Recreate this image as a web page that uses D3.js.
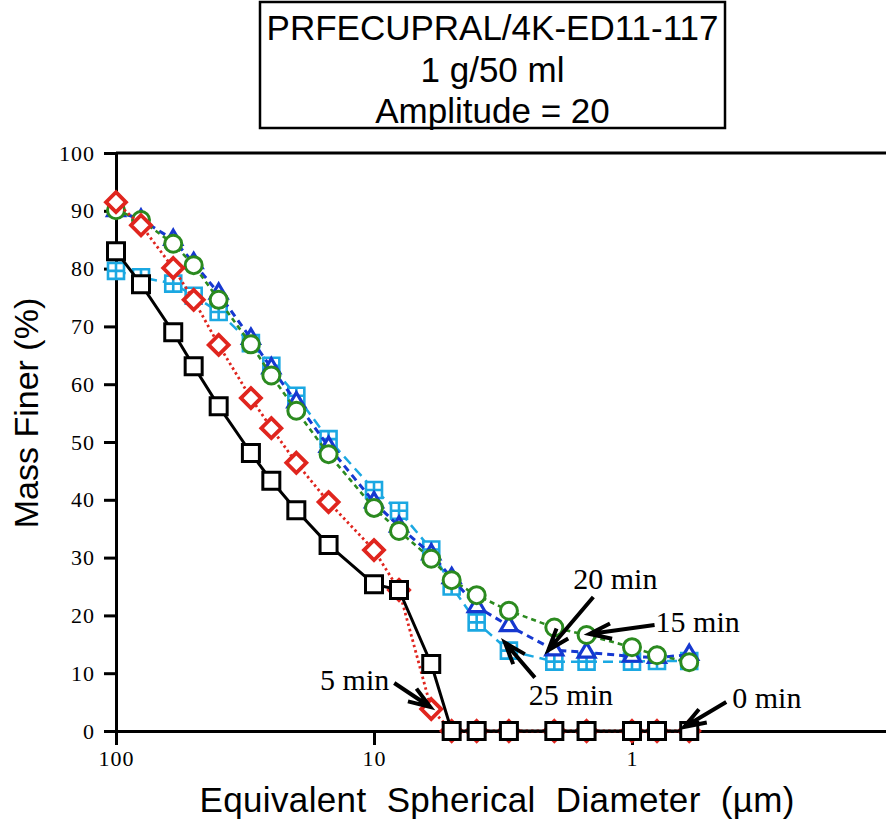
<!DOCTYPE html>
<html>
<head>
<meta charset="utf-8">
<script src="https://cdn.jsdelivr.net/npm/d3@7"></script>
<style>
  html, body { margin: 0; padding: 0; background: #fff; }
  svg { display: block; }
</style>
</head>
<body>
<svg id="chart" width="886" height="824"></svg>
<script>
// Sedigraph particle size distribution, mass finer vs equivalent spherical diameter
const diameters = [100, 80, 60, 50, 40, 30, 25, 20, 15, 10, 8, 6, 5, 4, 3, 2, 1.5, 1, 0.8, 0.6];

const mass0  = [83, 77.3, 69, 63.1, 56.2, 48.1, 43.3, 38.2, 32.2, 25.4, 24.4, 11.6, 0, 0, 0, 0, 0, 0, 0, 0];
const mass5  = [91.5, 87.5, 80.1, 74.6, 66.8, 57.6, 52.4, 46.4, 39.6, 31.3, 24.4, 3.8, 0, 0, 0, 0, 0, 0, 0, 0];
const mass15 = [90.1, 88.4, 84.3, 80.6, 74.6, 66.9, 61.5, 55.4, 47.9, 38.6, 34.6, 29.8, 26.1, 23.5, 20.8, 17.9, 16.6, 14.5, 13.1, 11.9];
const mass20 = [90, 88.5, 85, 81, 75.7, 67.9, 62.8, 56.9, 49.2, 39.6, 35.4, 30.6, 26.5, 21.5, 18.2, 14, 13.6, 12.9, 12.7, 13.2];
const mass25 = [79.6, 78.5, 77.4, 75.3, 72.5, 67.1, 63.2, 58, 50.5, 41.7, 38.1, 31.4, 25, 18.8, 13.9, 12, 12, 12, 12.1, 12.1];

const seriesNames = ["25 min", "20 min", "15 min", "5 min", "0 min"];
const titleLines = ["PRFECUPRAL/4K-ED11-117", "1 g/50 ml", "Amplitude = 20"];
const xTicks = [100, 10, 1];
const yTicks = d3.range(0, 101, 10);
const xTitle = "Equivalent  Spherical  Diameter  (\u00b5m)";
const yTitle = "Mass Finer (%)";

const svg = d3.select("#chart");
const x = d3.scaleLog().domain([100, 0.1]).range([116, 890]);
const y = d3.scaleLinear().domain([0, 100]).range([731, 153]);

const sans = "'Liberation Sans', Arial, Helvetica, sans-serif";
const serif = "'Liberation Serif', 'Times New Roman', serif";

// ---- title box ----
const tb = svg.append("g");
tb.append("rect")
  .attr("x", 260).attr("y", 2).attr("width", 465).attr("height", 126)
  .attr("fill", "#fff").attr("stroke", "#000").attr("stroke-width", 2.5);
tb.selectAll("text").data(titleLines).join("text")
  .attr("x", 492.5)
  .attr("y", (d, i) => 40 + i * 41.5)
  .attr("text-anchor", "middle")
  .attr("font-family", sans).attr("font-size", 35)
  .text(d => d);

// ---- axes ----
const gx = svg.append("g")
  .attr("transform", `translate(0,${y(0)})`)
  .call(d3.axisBottom(x).tickValues(xTicks).tickFormat(d3.format("d"))
    .tickSize(14).tickSizeOuter(0).tickPadding(5));
const gy = svg.append("g")
  .attr("transform", `translate(${x(100)},0)`)
  .call(d3.axisLeft(y).tickValues(yTicks).tickFormat(d3.format("d"))
    .tickSize(12).tickSizeOuter(0).tickPadding(9));

[gx, gy].forEach(g => {
  g.attr("font-size", null).attr("font-family", null);
  g.select(".domain").attr("stroke", "#000").attr("stroke-width", 3);
  g.selectAll(".tick line").attr("stroke", "#000").attr("stroke-width", 3);
  g.selectAll(".tick text").attr("fill", "#000")
    .attr("font-family", serif).attr("font-size", 22)
    .attr("letter-spacing", 1);
});

// top frame line
svg.append("line")
  .attr("x1", x(100)).attr("x2", x(0.1))
  .attr("y1", y(100)).attr("y2", y(100))
  .attr("stroke", "#000").attr("stroke-width", 3);

// axis titles
svg.append("text")
  .attr("x", 497).attr("y", 812)
  .attr("text-anchor", "middle")
  .attr("font-family", sans).attr("font-size", 35)
  .attr("textLength", 595).attr("lengthAdjust", "spacing")
  .style("white-space", "pre")
  .text(xTitle);
svg.append("text")
  .attr("transform", "translate(38,413) rotate(-90)")
  .attr("text-anchor", "middle")
  .attr("font-family", sans).attr("font-size", 34)
  .text(yTitle);

// ---- marker shapes ----
const shapes = {
  grid: "M-8,-8h16v16h-16zM0,-8v16M-8,0h16",
  triangle: "M0,-9.5L8.4,4.8L-8.4,4.8Z",
  circle: d3.symbol(d3.symbolCircle, Math.PI * 8.5 * 8.5)(),
  diamond: "M0,-10L10,0L0,10L-10,0Z",
  square: "M-8.5,-8.5h17v17h-17z"
};

const series = [
  { name: seriesNames[0], values: mass25, color: "#1ba8e2", dash: "10,6", lw: 2.5, shape: "grid", mw: 2.6 },
  { name: seriesNames[1], values: mass20, color: "#1638d0", dash: "7,5", lw: 3, shape: "triangle", mw: 3.2 },
  { name: seriesNames[2], values: mass15, color: "#2b8a1f", dash: "5,4", lw: 2.6, shape: "circle", mw: 3 },
  { name: seriesNames[3], values: mass5, color: "#e0251e", dash: "2.5,3", lw: 2.8, shape: "diamond", mw: 3.8 },
  { name: seriesNames[4], values: mass0, color: "#000", dash: null, lw: 3, shape: "square", mw: 3 }
];

const line = d3.line().x(d => x(d[0])).y(d => y(d[1]));

series.forEach(s => {
  const pts = diameters.map((d, i) => [d, s.values[i]]);
  const g = svg.append("g").attr("class", "series");
  g.append("path")
    .attr("d", line(pts))
    .attr("fill", "none")
    .attr("stroke", s.color)
    .attr("stroke-width", s.lw)
    .attr("stroke-dasharray", s.dash);
  g.selectAll("path.mark").data(pts).join("path")
    .attr("class", "mark")
    .attr("transform", d => `translate(${x(d[0])},${y(d[1])})`)
    .attr("d", shapes[s.shape])
    .attr("fill", "#fff")
    .attr("stroke", s.color)
    .attr("stroke-width", s.mw);
});

// ---- curve labels with arrows ----
const notes = [
  { text: "20 min", values: mass20, at: 2,   tip: [-6, 0],  tail: [39, -53], label: [61, -61], anchor: "middle" },
  { text: "15 min", values: mass15, at: 1.5, tip: [3, -1],  tail: [68, -10], label: [69, -3],  anchor: "start" },
  { text: "25 min", values: mass25, at: 3,   tip: [-4, -8], tail: [26, 27],  label: [62, 54],  anchor: "middle" },
  { text: "5 min",  values: mass5,  at: 6,   tip: [-1, -2], tail: [-37, -26], label: [-42, -19], anchor: "end" },
  { text: "0 min",  values: mass0,  at: 0.6, tip: [-5, -4], tail: [37, -29], label: [43, -23], anchor: "start" }
];

const ann = svg.append("g").attr("class", "notes");
notes.forEach(n => {
  const i = diameters.indexOf(n.at);
  const px = x(n.at), py = y(n.values[i]);
  const tx = px + n.tip[0], ty = py + n.tip[1];
  const sx = px + n.tail[0], sy = py + n.tail[1];
  const ang = Math.atan2(sy - ty, sx - tx);
  const len = 23, spread = 0.34;
  const b1 = [tx + len * Math.cos(ang + spread), ty + len * Math.sin(ang + spread)];
  const b2 = [tx + len * Math.cos(ang - spread), ty + len * Math.sin(ang - spread)];
  ann.append("path")
    .attr("d", `M${sx},${sy}L${tx},${ty}M${b1[0]},${b1[1]}L${tx},${ty}L${b2[0]},${b2[1]}`)
    .attr("fill", "none").attr("stroke", "#000")
    .attr("stroke-width", 4).attr("stroke-linejoin", "miter").attr("stroke-linecap", "butt");
  ann.append("text")
    .attr("x", px + n.label[0]).attr("y", py + n.label[1])
    .attr("text-anchor", n.anchor)
    .attr("font-family", serif).attr("font-size", 30)
    .text(n.text);
});
</script>
</body>
</html>
